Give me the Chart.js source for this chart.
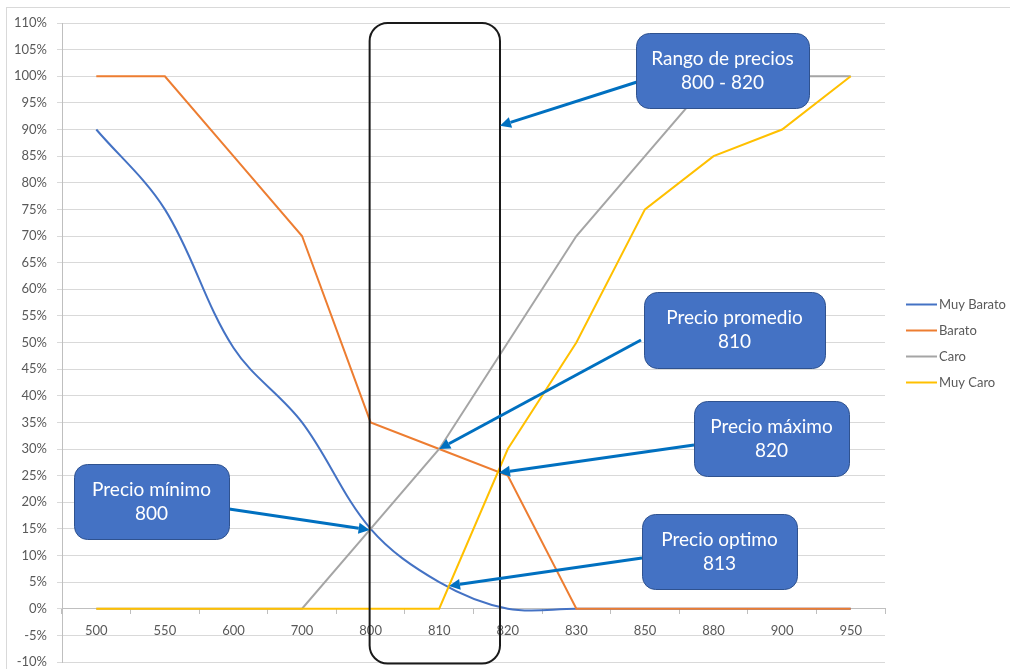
<!DOCTYPE html>
<html>
<head>
<meta charset="utf-8">
<script src="https://cdn.jsdelivr.net/npm/chart.js@4/dist/chart.umd.min.js"></script>
<style>
  html, body { margin: 0; padding: 0; background: #ffffff; }
  #wrap { width: 1010px; height: 669px; position: relative; }
</style>
</head>
<body>
<div id="wrap"><canvas id="chart" width="1010" height="669"></canvas></div>
<script>
// Price points (category axis)
const precios = ['500', '550', '600', '700', '800', '810', '820', '830', '850', '880', '900', '950'];

// Share of respondents (%) per price perception
const muyBarato = [90, 75, 49, 35, 15, 5, 0, 0, 0, 0, 0, 0];
const barato    = [100, 100, 85, 70, 35, 30, 25, 0, 0, 0, 0, 0];
const caro      = [0, 0, 0, 0, 15, 30, 50, 70, 85, 100, 100, 100];
const muyCaro   = [0, 0, 0, 0, 0, 0, 30, 50, 75, 85, 90, 100];

const seriesNames = ['Muy Barato', 'Barato', 'Caro', 'Muy Caro'];

// Y axis range and step (%)
const yMin = -10;
const yMax = 110;
const yStep = 5;

// Callout texts
const rangoTexto    = ['Rango de precios', '800 - 820'];
const promedioTexto = ['Precio promedio', '810'];
const maximoTexto   = ['Precio máximo', '820'];
const minimoTexto   = ['Precio mínimo', '800'];
const optimoTexto   = ['Precio optimo', '813'];

const FONT = 'Lato, "Open Sans", sans-serif';
const TEXT_GREY = '#595959';

// Where two series cross (fractional category index and value)
function crossing(a, b) {
  for (let i = 0; i < a.length - 1; i++) {
    const d0 = a[i] - b[i];
    const d1 = a[i + 1] - b[i + 1];
    if (d0 === 0) return { x: i, y: a[i] };
    if (d0 * d1 < 0) {
      const t = d0 / (d0 - d1);
      return { x: i + t, y: a[i] + t * (a[i + 1] - a[i]) };
    }
  }
  return null;
}

function roundRect(ctx, x, y, w, h, r) {
  ctx.beginPath();
  ctx.moveTo(x + r, y);
  ctx.lineTo(x + w - r, y);
  ctx.arcTo(x + w, y, x + w, y + r, r);
  ctx.lineTo(x + w, y + h - r);
  ctx.arcTo(x + w, y + h, x + w - r, y + h, r);
  ctx.lineTo(x + r, y + h);
  ctx.arcTo(x, y + h, x, y + h - r, r);
  ctx.lineTo(x, y + r);
  ctx.arcTo(x, y, x + r, y, r);
  ctx.closePath();
}

function arrow(ctx, x0, y0, x1, y1) {
  const ang = Math.atan2(y1 - y0, x1 - x0);
  const head = 11, half = 5.5;
  const bx = x1 - head * Math.cos(ang);
  const by = y1 - head * Math.sin(ang);
  ctx.save();
  ctx.strokeStyle = '#0070C0';
  ctx.fillStyle = '#0070C0';
  ctx.lineWidth = 3;
  ctx.lineCap = 'butt';
  ctx.beginPath();
  ctx.moveTo(x0, y0);
  ctx.lineTo(bx, by);
  ctx.stroke();
  ctx.beginPath();
  ctx.moveTo(x1, y1);
  ctx.lineTo(bx + half * Math.sin(ang), by - half * Math.cos(ang));
  ctx.lineTo(bx - half * Math.sin(ang), by + half * Math.cos(ang));
  ctx.closePath();
  ctx.fill();
  ctx.restore();
}

function callout(ctx, box, lines) {
  ctx.save();
  roundRect(ctx, box.x + 0.5, box.y + 0.5, box.w, box.h, 13);
  ctx.fillStyle = '#4472C4';
  ctx.fill();
  ctx.strokeStyle = '#2F528F';
  ctx.lineWidth = 1;
  ctx.stroke();
  ctx.fillStyle = '#ffffff';
  ctx.font = '19px ' + FONT;
  ctx.textAlign = 'center';
  ctx.textBaseline = 'middle';
  const cx = box.x + box.w / 2;
  const cy = box.y + box.h / 2;
  ctx.fillText(lines[0], cx, cy - 12);
  ctx.fillText(lines[1], cx, cy + 12);
  ctx.restore();
}

// Outer frame of the chart
const framePlugin = {
  id: 'frame',
  beforeDraw(chart) {
    const ctx = chart.ctx;
    ctx.save();
    ctx.fillStyle = '#ffffff';
    ctx.fillRect(0, 0, chart.width, chart.height);
    ctx.strokeStyle = '#D9D9D9';
    ctx.lineWidth = 1;
    ctx.strokeRect(6.5, 7.5, chart.width + 10, chart.height + 10);
    ctx.restore();
  }
};

// Legend at the right: short line + series name
const sideLegendPlugin = {
  id: 'sideLegend',
  afterDraw(chart) {
    const ctx = chart.ctx;
    const area = chart.chartArea;
    const mid = (area.top + area.bottom) / 2;
    const x0 = area.right + 21;
    ctx.save();
    ctx.font = '13px ' + FONT;
    ctx.textBaseline = 'middle';
    ctx.textAlign = 'left';
    chart.data.datasets.forEach((ds, i) => {
      const y = Math.round(mid + (i - 1.5) * 26) + 0.5;
      ctx.strokeStyle = ds.borderColor;
      ctx.lineWidth = 2;
      ctx.beginPath();
      ctx.moveTo(x0, y);
      ctx.lineTo(x0 + 31, y);
      ctx.stroke();
      ctx.fillStyle = TEXT_GREY;
      ctx.fillText(ds.label, x0 + 33, y);
    });
    ctx.restore();
  }
};

// Price range frame, arrows and callouts
const calloutPlugin = {
  id: 'callouts',
  afterDraw(chart) {
    const ctx = chart.ctx;
    const xs = chart.scales.x;
    const ys = chart.scales.y;
    const area = chart.chartArea;
    const P = (pt) => ({ x: xs.getPixelForValue(pt.x), y: ys.getPixelForValue(pt.y) });

    const minimo = P(crossing(muyBarato, caro));
    const promedio = P(crossing(barato, caro));
    const maximo = P(crossing(barato, muyCaro));
    const optimo = P(crossing(muyBarato, muyCaro));

    // Rounded frame around the acceptable price range
    const left = minimo.x - 1;
    const right = maximo.x + 2;
    ctx.save();
    roundRect(ctx, left, area.top, right - left, area.bottom - area.top + 1.5, 18);
    ctx.strokeStyle = '#1a1a1a';
    ctx.lineWidth = 2;
    ctx.stroke();
    ctx.restore();

    const rangoTip = { x: right, y: ys.getPixelForValue(90.7) };

    arrow(ctx, 637, 82, rangoTip.x, rangoTip.y);
    arrow(ctx, 641, 340, promedio.x, promedio.y);
    arrow(ctx, 694, 445, maximo.x + 1, maximo.y + 1);
    arrow(ctx, 229, 509, minimo.x - 1, minimo.y + 1);
    arrow(ctx, 642, 558, optimo.x, optimo.y);

    callout(ctx, { x: 636, y: 33, w: 173, h: 75 }, rangoTexto);
    callout(ctx, { x: 644, y: 292, w: 181, h: 76 }, promedioTexto);
    callout(ctx, { x: 694, y: 401, w: 155, h: 75 }, maximoTexto);
    callout(ctx, { x: 74, y: 464, w: 155, h: 75 }, minimoTexto);
    callout(ctx, { x: 642, y: 514, w: 155, h: 75 }, optimoTexto);
  }
};

const colors = ['#4472C4', '#ED7D31', '#A5A5A5', '#FFC000'];
const values = [muyBarato, barato, caro, muyCaro];

new Chart(document.getElementById('chart'), {
  type: 'line',
  data: {
    labels: precios,
    datasets: values.map((v, i) => ({
      label: seriesNames[i],
      data: v,
      borderColor: colors[i],
      backgroundColor: colors[i],
      borderWidth: 2,
      pointRadius: 0,
      pointHoverRadius: 0,
      tension: i === 0 ? 0.35 : 0,
      fill: false,
      order: 3 - i
    }))
  },
  options: {
    responsive: false,
    animation: false,
    devicePixelRatio: 1,
    layout: { padding: { left: 0, top: 23, right: 125, bottom: 7 } },
    plugins: {
      legend: { display: false },
      tooltip: { enabled: false }
    },
    scales: {
      x: {
        type: 'category',
        offset: true,
        position: { y: 0 },
        grid: {
          offset: true,
          drawOnChartArea: false,
          drawTicks: true,
          tickLength: 5,
          color: '#BFBFBF'
        },
        border: { color: '#BFBFBF', width: 1 },
        ticks: {
          autoSkip: false,
          maxRotation: 0,
          padding: 9,
          color: TEXT_GREY,
          font: { family: FONT, size: 13 }
        }
      },
      y: {
        min: yMin,
        max: yMax,
        afterFit(scale) {
          scale.width = 62;
          scale.paddingTop = 7;
          scale.paddingBottom = 7;
        },
        grid: { color: '#D9D9D9', tickLength: 5 },
        border: { color: '#BFBFBF', width: 1 },
        ticks: {
          stepSize: yStep,
          padding: 10,
          color: TEXT_GREY,
          font: { family: FONT, size: 13 },
          callback: (v) => Math.round(v) + '%'
        }
      }
    }
  },
  plugins: [framePlugin, sideLegendPlugin, calloutPlugin]
});
</script>
</body>
</html>
